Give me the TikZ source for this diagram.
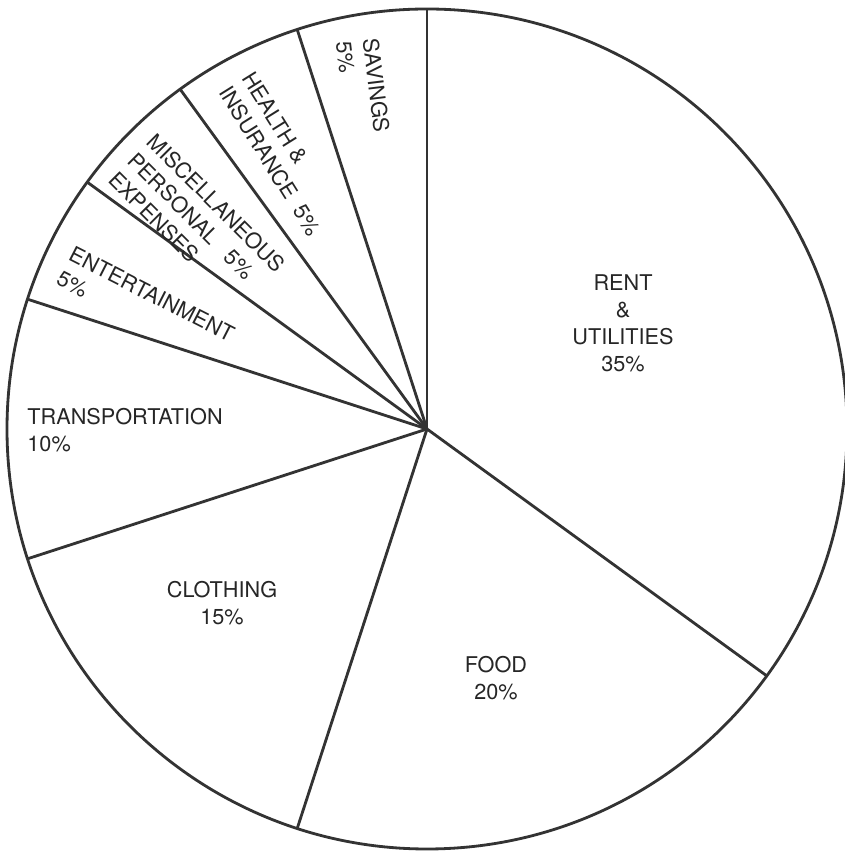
\documentclass[tikz,border=0pt]{standalone}
\usepackage{fontspec}
\setmainfont{TeX Gyre Heros}
\begin{document}
\begin{tikzpicture}[x=0.3mm, y=0.3mm, line width=2.4pt,
    every node/.style = {inner sep=0pt, font=\fontsize{18.5}{23}\selectfont, text=black!85},
    share/.style = {align=center},
    thin share/.style = {align=left, anchor=north west}]
    \useasboundingbox (0,0) rectangle (844,856);
    \coordinate (centre) at (427,427);
    \draw[black!80] (centre) circle (420);
    \foreach \a in {90,-36,-108,-162,162,144,126,108}
        \draw[black!80] (centre) -- ++(\a:420);
    \node[share] (rent) at (623,533) {RENT\\\&\\UTILITIES\\35\%};
    \node[share] (food) at (496,178) {FOOD\\20\%};
    \node[share] (clothing) at (222,253) {CLOTHING\\15\%};
    \node[thin share] (transport) at (26,449) {TRANSPORTATION\\10\%};
    \node[thin share, rotate=-27] (fun) at (74,612) {ENTERTAINMENT\\5\%};
    \node[thin share, rotate=-45] (misc) at (157,726) {MISCELLANEOUS\\PERSONAL\ \ \ 5\%\\EXPENSES};
    \node[thin share, rotate=-58] (health) at (255,788) {HEALTH \&\\INSURANCE\ \ 5\%};
    \node[thin share, rotate=-83] (savings) at (380,820) {SAVINGS\\5\%};
\end{tikzpicture}
\end{document}
